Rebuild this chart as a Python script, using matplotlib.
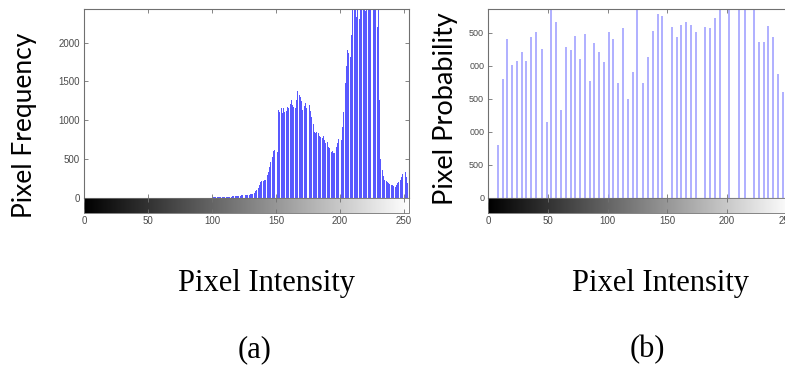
import numpy as np
import matplotlib
matplotlib.use("Agg")
import matplotlib.pyplot as plt
from matplotlib import cm, colors

# (a) grey-level histogram of the original image, one count per level 0..255
freq_zero = [0] * 100  # nothing below level 100
freq_rest = [
    2, 3, 3, 4, 5, 5, 6, 7, 7, 8,
    9, 10, 11, 12, 13, 15, 18, 20, 21, 23,
    24, 26, 28, 29, 30, 33, 35, 34, 37, 40,
    42, 46, 50, 62, 80, 99, 130, 165, 200, 210,
    215, 228, 230, 290, 330, 400, 455, 520, 600, 615,
    575, 585, 1130, 1100, 1155, 1090, 1150, 1108, 1120, 1172,
    1150, 1210, 1259, 1200, 1172, 1150, 1260, 1379, 1320, 1302,
    1250, 1130, 1180, 1216, 1150, 1180, 1194, 1120, 1044, 950,
    850, 830, 850, 830, 800, 786, 770, 790, 744, 700,
    720, 657, 640, 593, 600, 572, 580, 650, 700, 760,
    786, 740, 915, 1100, 1474, 1700, 1903, 1870, 1817, 2100,
    2600, 3000, 2800, 2333, 2900, 2300, 3000, 2700, 3000, 2900,
    2400, 3000, 2800, 3000, 2900, 3000, 2700, 3000, 2900, 2200,
    2500, 1259, 500, 357, 280, 228, 220, 206, 190, 180,
    164, 170, 150, 142, 160, 190, 206, 230, 271, 300,
    400, 330, 271, 190, 150, 120,
]
freq = freq_zero + freq_rest
levels_a = list(range(256))

# (b) histogram after equalisation: only some levels are occupied
levels_b = [8, 12, 16, 20, 24, 28, 32, 36, 40, 45, 49, 53, 57, 61, 65, 69, 73, 77,
            81, 85, 89, 93, 97, 101, 105, 109, 113, 117, 121, 125, 130, 134, 138,
            142, 146, 154, 158, 162, 166, 170, 174, 182, 186, 190, 194, 202, 210,
            215, 223, 227, 231, 235, 239, 243, 247]
counts_b = [798, 1793, 2404, 2005, 2066, 2207, 2066, 2439, 2515, 2252,
            1151, 2840, 2661, 1328, 2288, 2237, 2454, 2106, 2474, 1762,
            2348, 2212, 2050, 2515, 2404, 1732, 2565, 1500, 1904, 3000,
            1732, 2131, 2525, 2788, 2757, 2591, 2434, 2616, 2666, 2616,
            2515, 2591, 2565, 2717, 3000, 3000, 3000, 3000, 3000, 2353,
            2353, 2606, 2434, 1874, 1606]

yticks_a = [0, 500, 1000, 1500, 2000]
yticks_b = [0, 500, 1000, 1500, 2000, 2500]
ylabels_b = ["0", "500", "000", "500", "000", "500"]  # left digits are cut off in the figure
xticks = [0, 50, 100, 150, 200, 250]

W, H = 785, 366
fig = plt.figure(figsize=(W / 100, H / 100), dpi=100)
plt.rcParams["font.family"] = ["Liberation Sans", "DejaVu Sans"]

spine_col = "#707070"
tick_col = "#4a4a4a"


def px_box(x0, y0, x1, y1):
    # pixel box (top-left origin) -> figure fraction
    return [x0 / W, 1 - y1 / H, (x1 - x0) / W, (y1 - y0) / H]


def style_main(ax):
    for s in ax.spines.values():
        s.set_color(spine_col)
        s.set_linewidth(0.8)
    ax.tick_params(direction="in", length=3, width=0.6, color=spine_col,
                   top=True, right=True, bottom=True, left=True,
                   labelbottom=False, labelsize=7, labelcolor=tick_col, pad=3)
    ax.set_xticks(xticks)


def add_bar(cax, xmax):
    sm = cm.ScalarMappable(norm=colors.Normalize(0, 255), cmap="gray")
    cb = fig.colorbar(sm, cax=cax, orientation="horizontal")
    cb.outline.set_edgecolor(spine_col)
    cb.outline.set_linewidth(0.6)
    cax.set_xlim(0, xmax)
    cax.set_xticks(xticks)
    cax.xaxis.set_ticks_position("both")
    cax.tick_params(direction="in", length=3, width=0.6, color=spine_col,
                    labelsize=7, labelcolor=tick_col, pad=2,
                    labeltop=False, labelbottom=True)


# ---- panel (a)
ax1 = fig.add_axes(px_box(84, 9, 408.5, 197.7))
ax1.bar(levels_a, freq, width=0.75, color="#5858ff", linewidth=0)
ax1.set_xlim(0, 253.5)
ax1.set_ylim(0, 2432)
ax1.set_yticks(yticks_a)
style_main(ax1)
cax1 = fig.add_axes(px_box(84, 197.7, 408.5, 213.3))
add_bar(cax1, 253.5)

# ---- panel (b), runs off the right edge like the source figure
ax2 = fig.add_axes(px_box(488.3, 9, 488.3 + 255 * 1.192, 197.7))
ax2.vlines(levels_b, 0, counts_b, color="#9a9aff", linewidth=1.1)
ax2.set_xlim(0, 255)
ax2.set_ylim(0, 2860)
ax2.set_yticks(yticks_b)
ax2.set_yticklabels(ylabels_b)
style_main(ax2)
ax2.tick_params(axis="y", labelsize=6.5)
cax2 = fig.add_axes(px_box(488.3, 197.7, 488.3 + 255 * 1.192, 213.3))
add_bar(cax2, 255)

# big labels
sans = ["Lato", "Open Sans", "DejaVu Sans"]
fig.text(25 / W, 1 - 125 / H, "Pixel Frequency", rotation=90, ha="center",
         va="center", family=sans, fontsize=19)
fig.text(445 / W, 1 - 109 / H, "Pixel Probability", rotation=90, ha="center",
         va="center", family=sans, fontsize=19.5)

serif = ["Liberation Serif", "DejaVu Serif"]
fig.text(267 / W, 1 - 291 / H, "Pixel Intensity", ha="center", va="baseline",
         family=serif, fontsize=22)
fig.text(660 / W, 1 - 291 / H, "Pixel Intensity", ha="center", va="baseline",
         family=serif, fontsize=22)
fig.text(255 / W, 1 - 357 / H, "(a)", ha="center", va="baseline",
         family=serif, fontsize=22)
fig.text(647.5 / W, 1 - 357 / H, "(b)", ha="center", va="baseline",
         family=serif, fontsize=22)

fig.savefig("out.png", dpi=100)
